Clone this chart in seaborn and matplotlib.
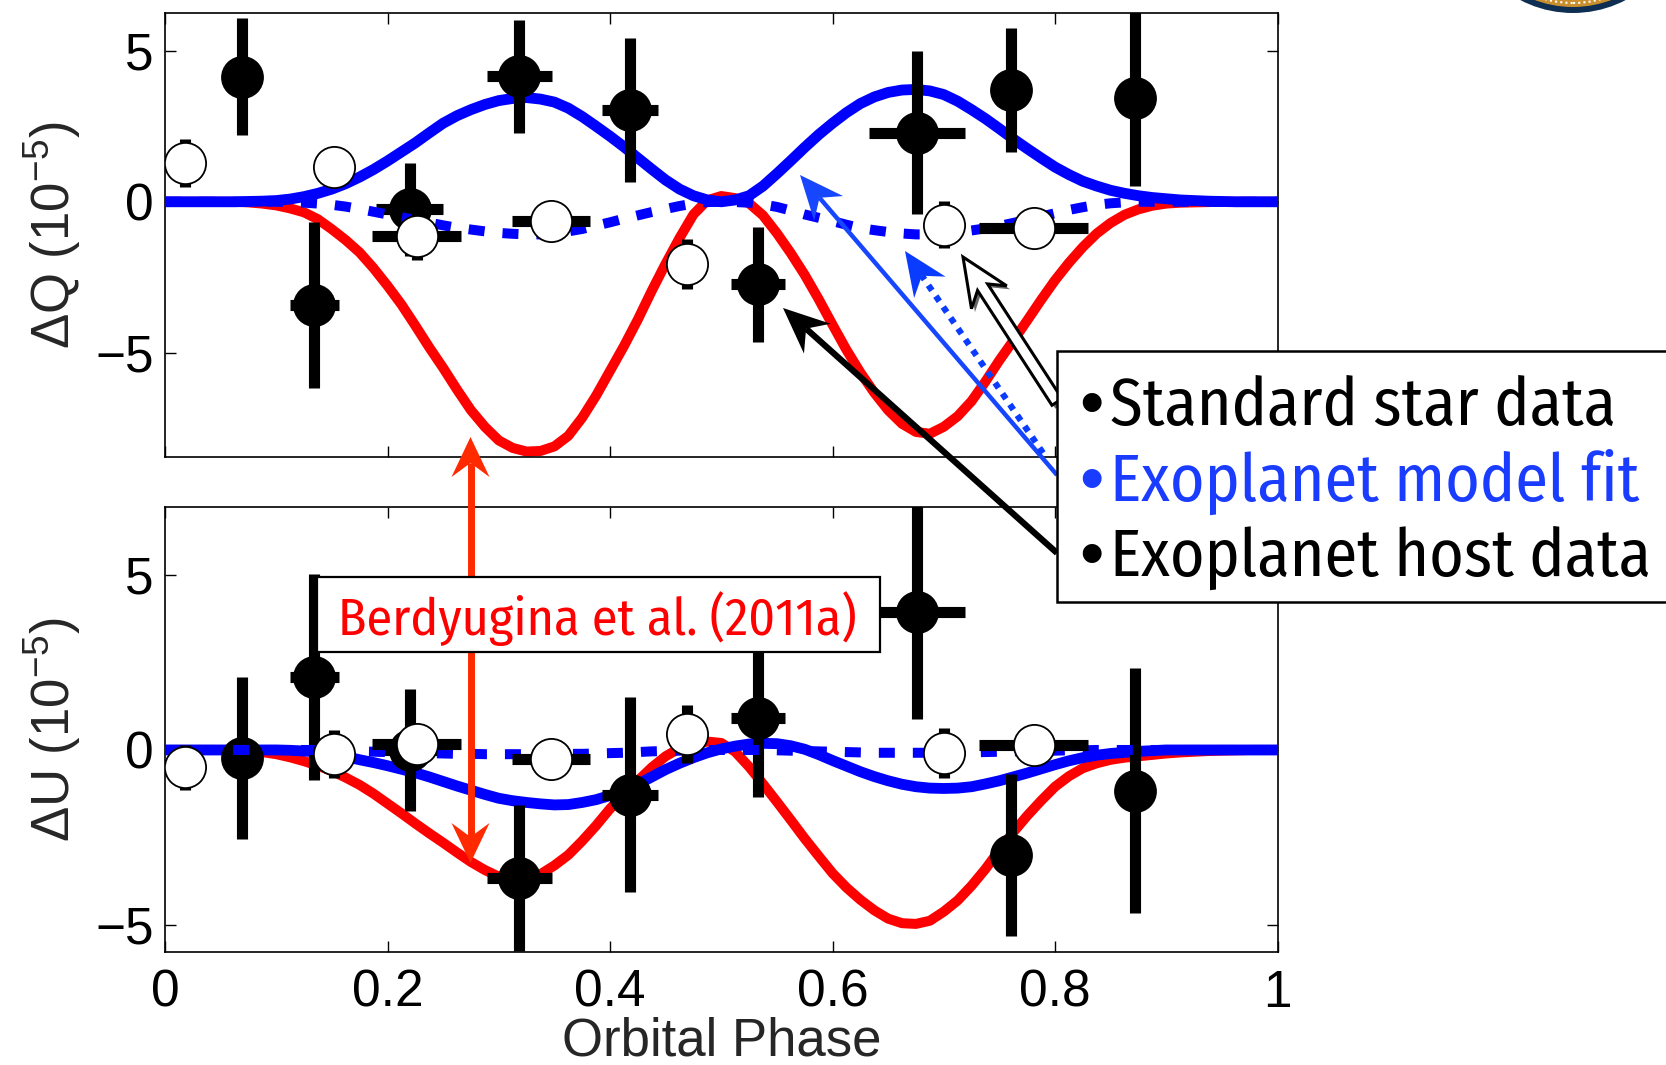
import numpy as np
import matplotlib
matplotlib.use("Agg")
import matplotlib.pyplot as plt
import seaborn as sns
from matplotlib.patches import Rectangle, Polygon, Ellipse
import matplotlib.patheffects as pe

# ---------------- data ----------------
phase_grid = [0.0000, 0.0125, 0.0250, 0.0375, 0.0500, 0.0625, 0.0750, 0.0875, 0.1000, 0.1125,
              0.1250, 0.1375, 0.1500, 0.1625, 0.1750, 0.1875, 0.2000, 0.2125, 0.2250, 0.2375,
              0.2500, 0.2625, 0.2750, 0.2875, 0.3000, 0.3125, 0.3250, 0.3375, 0.3500, 0.3625,
              0.3750, 0.3875, 0.4000, 0.4125, 0.4250, 0.4375, 0.4500, 0.4625, 0.4750, 0.4875,
              0.5000, 0.5125, 0.5250, 0.5375, 0.5500, 0.5625, 0.5750, 0.5875, 0.6000, 0.6125,
              0.6250, 0.6375, 0.6500, 0.6625, 0.6750, 0.6875, 0.7000, 0.7125, 0.7250, 0.7375,
              0.7500, 0.7625, 0.7750, 0.7875, 0.8000, 0.8125, 0.8250, 0.8375, 0.8500, 0.8625,
              0.8750, 0.8875, 0.9000, 0.9125, 0.9250, 0.9375, 0.9500, 0.9625, 0.9750, 0.9875,
              1.0000]

# Berdyugina et al. (2011a) model (red)
Q_ref = [0, 0, 0, 0, 0, 0, -0.02, -0.06, -0.12, -0.22,
         -0.35, -0.58, -0.91, -1.27, -1.68, -2.20, -2.78, -3.40, -4.10, -4.82,
         -5.50, -6.22, -6.90, -7.45, -7.90, -8.15, -8.27, -8.25, -8.10, -7.75,
         -7.15, -6.42, -5.60, -4.78, -3.90, -2.95, -2.05, -1.20, -0.42, 0.05,
         0.19, 0.12, -0.05, -0.45, -1.04, -1.70, -2.42, -3.22, -4.07, -4.90,
         -5.65, -6.32, -6.90, -7.35, -7.62, -7.68, -7.45, -7.10, -6.60, -5.95,
         -5.25, -4.60, -3.93, -3.25, -2.60, -2.02, -1.50, -1.05, -0.70, -0.43,
         -0.25, -0.13, -0.06, -0.03, -0.02, -0.01, 0, 0, 0, 0,
         0]
U_ref = [0, 0, 0, 0, 0, -0.01, -0.03, -0.06, -0.12, -0.21,
         -0.32, -0.45, -0.60, -0.79, -1.00, -1.25, -1.53, -1.81, -2.10, -2.38,
         -2.65, -2.93, -3.20, -3.43, -3.62, -3.74, -3.72, -3.55, -3.30, -3.00,
         -2.60, -2.16, -1.68, -1.27, -0.88, -0.50, -0.18, 0.05, 0.17, 0.24,
         0.20, -0.05, -0.48, -0.97, -1.48, -2.00, -2.53, -3.03, -3.52, -3.93,
         -4.28, -4.58, -4.82, -4.95, -4.97, -4.88, -4.62, -4.30, -3.88, -3.40,
         -2.86, -2.35, -1.88, -1.45, -1.05, -0.75, -0.52, -0.38, -0.28, -0.22,
         -0.18, -0.14, -0.10, -0.07, -0.05, -0.03, -0.02, -0.01, 0, 0,
         0]

# Exoplanet model fit to host data (blue solid)
Q_fit = [0, 0, 0, 0, 0, 0, 0.01, 0.02, 0.04, 0.09,
         0.17, 0.28, 0.42, 0.60, 0.82, 1.07, 1.35, 1.65, 1.95, 2.28,
         2.60, 2.85, 3.05, 3.22, 3.35, 3.42, 3.45, 3.40, 3.30, 3.10,
         2.82, 2.50, 2.17, 1.82, 1.45, 1.08, 0.72, 0.42, 0.20, 0.06,
         0.00, 0.06, 0.20, 0.52, 0.93, 1.36, 1.80, 2.22, 2.60, 2.95,
         3.25, 3.47, 3.62, 3.70, 3.72, 3.67, 3.55, 3.33, 3.05, 2.75,
         2.42, 2.08, 1.76, 1.45, 1.15, 0.90, 0.68, 0.52, 0.38, 0.28,
         0.20, 0.14, 0.10, 0.06, 0.04, 0.02, 0.01, 0, 0, 0,
         0]
U_fit = [0, 0, 0, 0, 0, 0, 0, 0, 0, -0.01,
         -0.03, -0.06, -0.12, -0.19, -0.28, -0.36, -0.45, -0.55, -0.65, -0.77,
         -0.90, -1.03, -1.15, -1.27, -1.38, -1.45, -1.50, -1.54, -1.57, -1.56,
         -1.50, -1.42, -1.30, -1.15, -0.98, -0.77, -0.56, -0.38, -0.22, -0.08,
         0.03, 0.11, 0.17, 0.19, 0.18, 0.12, 0.02, -0.13, -0.30, -0.46,
         -0.62, -0.76, -0.88, -0.98, -1.05, -1.09, -1.10, -1.09, -1.05, -0.97,
         -0.88, -0.77, -0.66, -0.54, -0.42, -0.31, -0.22, -0.15, -0.10, -0.07,
         -0.04, -0.02, 0, 0, 0, 0, 0, 0, 0, 0,
         0]

# Exoplanet model fit to standard star data (blue dashed)
Q_fit_std = [0, 0, 0, 0, 0, 0, 0, 0, 0, -0.01,
             -0.03, -0.06, -0.10, -0.16, -0.24, -0.33, -0.42, -0.51, -0.60, -0.69,
             -0.78, -0.86, -0.92, -0.98, -1.03, -1.06, -1.08, -1.08, -1.05, -0.98,
             -0.90, -0.79, -0.68, -0.56, -0.45, -0.34, -0.24, -0.14, -0.06, -0.01,
             0, -0.01, -0.03, -0.09, -0.17, -0.29, -0.42, -0.53, -0.64, -0.76,
             -0.87, -0.94, -1.00, -1.05, -1.08, -1.08, -1.06, -1.01, -0.95, -0.88,
             -0.80, -0.70, -0.60, -0.49, -0.38, -0.27, -0.18, -0.10, -0.05, -0.02,
             0, 0, 0, 0, 0, 0, 0, 0, 0, 0,
             0]
U_fit_std = [0, 0, 0, 0, 0, 0, 0, 0, 0, 0,
             0, 0, -0.02, -0.03, -0.04, -0.05, -0.06, -0.07, -0.08, -0.09,
             -0.10, -0.11, -0.11, -0.12, -0.12, -0.12, -0.12, -0.12, -0.12, -0.11,
             -0.11, -0.10, -0.09, -0.08, -0.06, -0.04, -0.03, -0.02, -0.01, 0,
             0, 0, 0, 0, -0.01, -0.02, -0.03, -0.04, -0.05, -0.06,
             -0.07, -0.08, -0.08, -0.08, -0.08, -0.08, -0.08, -0.08, -0.07, -0.06,
             -0.05, -0.04, -0.03, -0.02, -0.02, -0.01, -0.01, 0, 0, 0,
             0, 0, 0, 0, 0, 0, 0, 0, 0, 0,
             0]

# Exoplanet host data (black filled)
phase_host = [0.069, 0.134, 0.220, 0.3185, 0.418, 0.533, 0.676, 0.760, 0.872]
phase_host_err = [0, 0.022, 0.030, 0.029, 0.025, 0.0245, 0.043, 0, 0]
Q_host = [4.14, -3.42, -0.25, 4.15, 3.04, -2.73, 2.28, 3.70, 3.42]
Q_host_err = [1.93, 2.76, 1.55, 1.86, 2.39, 1.90, 2.70, 2.05, 2.90]
U_host = [-0.23, 2.08, 0.0, -3.65, -1.28, 0.92, 3.94, -3.00, -1.17]
U_host_err = [2.31, 2.95, 1.73, 2.08, 2.78, 2.26, 3.05, 2.31, 3.50]

# Standard star data (white open)
phase_std = [0.018, 0.152, 0.2265, 0.347, 0.469, 0.700, 0.781]
phase_std_err = [0, 0, 0.040, 0.035, 0, 0, 0.049]
Q_std = [1.28, 1.16, -1.14, -0.63, -2.06, -0.76, -0.87]
Q_std_err = [0.80, 0.40, 0.80, 0.30, 0.83, 0.77, 0.30]
U_std = [-0.50, -0.12, 0.17, -0.27, 0.46, -0.09, 0.13]
U_std_err = [0.64, 0.68, 0.40, 0.30, 0.83, 0.72, 0.30]

x_ticks = [0, 0.2, 0.4, 0.6, 0.8, 1]
x_ticklabels = ["0", "0.2", "0.4", "0.6", "0.8", "1"]
y_ticks = [-5, 0, 5]
y_ticklabels = ["\u22125", "0", "5"]

legend_items = ["Standard star data", "Exoplanet model fit", "Exoplanet host data"]
legend_colors = ["black", "#1a3cff", "black"]
ref_label = "Berdyugina et al. (2011a)"

# ---------------- style ----------------
sns.set_theme(style="ticks")
plt.rcParams["font.family"] = ["Liberation Sans", "DejaVu Sans"]
plt.rcParams["mathtext.fontset"] = "custom"
plt.rcParams["mathtext.rm"] = "Liberation Sans"
plt.rcParams["mathtext.it"] = "Liberation Sans:italic"
plt.rcParams["mathtext.bf"] = "Liberation Sans:bold"
NARROW = ["Fira Sans Condensed", "Barlow Semi Condensed", "Liberation Sans", "DejaVu Sans"]

W, H = 1666, 1065
fig = plt.figure(figsize=(W / 100, H / 100), dpi=100)
fig.patch.set_facecolor("white")


def fx(px):
    return px / W


def fy(py):
    return 1 - py / H


ax_top = fig.add_axes([fx(165), fy(457.3), fx(1112.5), (457.3 - 12.7) / H])
ax_bot = fig.add_axes([fx(165), fy(951.9), fx(1112.5), (951.9 - 507.1) / H])

RED = "#ff0000"
BLUE = "#0000ff"
FS = 37


def panel(ax, ref, fit, fit_std, host, host_err, std, std_err, ylim, ylabel):
    sns.lineplot(x=phase_grid, y=ref, ax=ax, color=RED, lw=7.2, zorder=2)
    sns.lineplot(x=phase_grid, y=fit, ax=ax, color=BLUE, lw=7.8, zorder=3)
    # host data
    ax.errorbar(phase_host, host, yerr=host_err, xerr=phase_host_err, fmt="none",
                ecolor="black", elinewidth=8, capsize=0, zorder=4)
    sns.scatterplot(x=phase_host, y=host, ax=ax, color="black", s=950,
                    edgecolor="black", linewidth=0, zorder=5, legend=False)
    # dashed fit for standard star
    sns.lineplot(x=phase_grid, y=fit_std, ax=ax, color=BLUE, lw=7.2, zorder=6)
    ax.lines[-1].set_dashes([1.6, 1.8])
    ax.lines[-1].set_dash_capstyle("butt")
    # standard star data
    ax.errorbar(phase_std, std, yerr=std_err, xerr=phase_std_err, fmt="none",
                ecolor="black", elinewidth=8, capsize=0, zorder=7)
    sns.scatterplot(x=phase_std, y=std, ax=ax, color="white", s=880,
                    edgecolor="black", linewidth=1.3, zorder=8, legend=False)

    ax.set_xlim(0, 1)
    ax.set_ylim(*ylim)
    ax.set_xticks(x_ticks)
    ax.set_yticks(y_ticks)
    ax.set_yticklabels(y_ticklabels)
    ax.tick_params(direction="in", length=8, width=1, top=True, right=True,
                   labelsize=FS, colors="black", pad=8)
    ax.tick_params(axis="x", pad=12)
    for s in ax.spines.values():
        s.set_linewidth(1.2)
        s.set_color("black")
    ax.set_ylabel(ylabel, fontsize=FS + 1)
    ax.yaxis.set_label_coords(-0.074, 0.5)
    ax.set_xlabel("")
    ax.set_facecolor("white")


panel(ax_top, Q_ref, Q_fit, Q_fit_std, Q_host, Q_host_err, Q_std, Q_std_err,
      (-8.46, 6.26), "\u0394Q (10$^{\u2212 5}$)")
panel(ax_bot, U_ref, U_fit, U_fit_std, U_host, U_host_err, U_std, U_std_err,
      (-5.77, 6.94), "\u0394U (10$^{\u2212 5}$)")

ax_top.set_xticklabels([])
ax_bot.set_xticklabels(x_ticklabels)
ax_bot.set_xlabel("Orbital Phase", fontsize=FS + 1)
ax_bot.xaxis.set_label_coords(0.5, -0.145)


# ---------------- annotations (figure pixel coords) ----------------
def P(x, y):
    return (fx(x), fy(y))


def head_poly(tip, tail, L, Wd, notch, color, z):
    t = np.array(tip, float)
    b = np.array(tail, float)
    u = (t - b) / np.hypot(*(t - b))
    n = np.array([-u[1], u[0]])
    pts = [t, t - L * u + Wd * n, t - (L - notch) * u, t - L * u - Wd * n]
    poly = Polygon([P(*p) for p in pts], closed=True, transform=fig.transFigure,
                   facecolor=color, edgecolor=color, lw=0, zorder=z)
    fig.add_artist(poly)


def line_arrow(tail, tip, color, lw, L, Wd, notch, ls="-", z=20, both=False):
    t = np.array(tip, float)
    b = np.array(tail, float)
    u = (t - b) / np.hypot(*(t - b))
    end = t - (L - notch) * u
    start = b + (L - notch) * u if both else b
    ln = plt.Line2D([fx(start[0]), fx(end[0])], [fy(start[1]), fy(end[1])],
                    transform=fig.transFigure, color=color, lw=lw, ls=ls,
                    zorder=z, solid_capstyle="butt")
    fig.add_artist(ln)
    head_poly(tip, tail, L, Wd, notch, color, z)
    if both:
        head_poly(tail, tip, L, Wd, notch, color, z)


# red double-headed arrow
line_arrow((470.5, 437), (470.5, 863), "#ff2a00", 5, 40, 19, 14, z=12, both=True)

# Berdyugina box (covers the arrow)
fig.add_artist(Rectangle(P(316.6, 652.4), fx(879.7 - 316.6), (652.4 - 577) / H,
                         transform=fig.transFigure, facecolor="white",
                         edgecolor="black", lw=1.6, zorder=13))
fig.text(fx(597), fy(635), ref_label, color=RED, fontsize=37.5, family=NARROW,
         ha="center", va="baseline", zorder=14)

# blue solid arrow
line_arrow((1057, 475), (800, 175), "#1746ff", 3.2, 44, 19, 14, z=20)
# blue dotted arrow
line_arrow((1043, 453), (905, 251), "#0a3cff", 4.5, 44, 19, 14, ls=(0, (1, 1.1)), z=20)
# black arrow
line_arrow((1057, 553), (783, 308), "black", 4.5, 46, 20, 15, z=21)

# white outlined arrow with shadow
tip = np.array([963.0, 257.0])
tail = np.array([1057.0, 402.0])
u = (tip - tail) / np.hypot(*(tip - tail))
n = np.array([-u[1], u[0]])
L, Wd, notch, bw = 48, 21, 12, 6
neck = tip - (L - notch) * u
pts = [tail + bw * n, neck + bw * n, tip - L * u + Wd * n, tip,
       tip - L * u - Wd * n, neck - bw * n, tail - bw * n]
warrow = Polygon([P(*p) for p in pts], closed=True, transform=fig.transFigure,
                 facecolor="white", edgecolor="black", lw=2.2, zorder=22)
warrow.set_path_effects([pe.SimplePatchShadow(offset=(2.5, -2.5), shadow_rgbFace="black",
                                              alpha=0.6), pe.Normal()])
fig.add_artist(warrow)

# legend box
fig.add_artist(Rectangle(P(1057, 602), fx(700), (602 - 351) / H,
                         transform=fig.transFigure, facecolor="white",
                         edgecolor="black", lw=1.8, zorder=23))
for txt, col, yb in zip(legend_items, legend_colors, [425, 501, 576]):
    fig.text(fx(1079), fy(yb), "\u2022", color=col, fontsize=50,
             family=["Liberation Sans", "DejaVu Sans"], ha="left", va="baseline", zorder=24)
    fig.text(fx(1110), fy(yb), txt, color=col, fontsize=47.5,
             family=NARROW, ha="left", va="baseline", zorder=24)

# partial logo at the top right corner
fig.add_artist(Ellipse(P(1573, -101), fx(2 * 114), 2 * 114 / H,
                       transform=fig.transFigure, facecolor="#0f2f52",
                       edgecolor="none", zorder=1))
fig.add_artist(Ellipse(P(1573, -101), fx(2 * 108), 2 * 108 / H,
                       transform=fig.transFigure, facecolor="#c98f2c",
                       edgecolor="none", zorder=1))
fig.add_artist(Ellipse(P(1573, -101), fx(2 * 104), 2 * 104 / H,
                       transform=fig.transFigure, facecolor="none",
                       edgecolor="white", lw=1.5, ls=(0, (1, 1.5)), zorder=1))

fig.savefig("out.png", dpi=100, facecolor="white")
